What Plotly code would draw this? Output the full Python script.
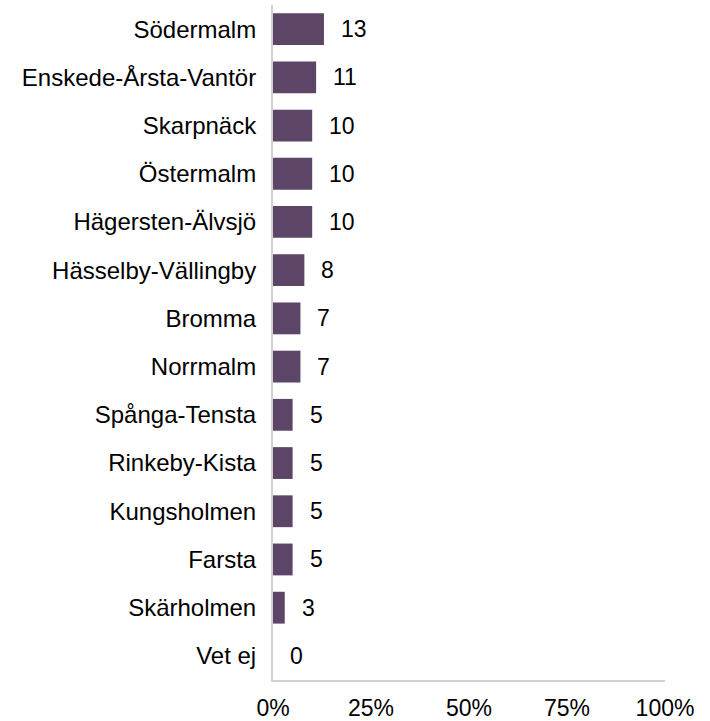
import plotly.graph_objects as go

categories = ["Södermalm", "Enskede-Årsta-Vantör", "Skarpnäck", "Östermalm",
              "Hägersten-Älvsjö", "Hässelby-Vällingby", "Bromma", "Norrmalm",
              "Spånga-Tensta", "Rinkeby-Kista", "Kungsholmen", "Farsta",
              "Skärholmen", "Vet ej"]
values = [13, 11, 10, 10, 10, 8, 7, 7, 5, 5, 5, 5, 3, 0]
tick_vals = [0, 25, 50, 75, 100]
tick_text = ["0%", "25%", "50%", "75%", "100%"]

FONT = "Liberation Sans, Arial, sans-serif"

fig = go.Figure()
fig.add_trace(go.Bar(
    x=values, y=categories, orientation="h",
    marker=dict(color="#5C4566", line=dict(color="#76627F", width=0)),
    hoverinfo="x+y",
))

for c, v in zip(categories, values):
    fig.add_annotation(x=v, y=c, text=str(v), showarrow=False,
                       xanchor="left", xshift=15,
                       font=dict(family=FONT, size=23, color="#000000"))

fig.update_layout(
    width=710, height=721,
    margin=dict(l=273, r=45, t=5, b=41, autoexpand=False),
    paper_bgcolor="white", plot_bgcolor="white",
    bargap=0.34, showlegend=False,
    font=dict(family=FONT, size=23, color="#000000"),
)
fig.update_xaxes(range=[0, 100], tickvals=tick_vals, ticktext=tick_text,
                 showgrid=False, zeroline=False, showline=True,
                 linecolor="#D0D0D0", linewidth=2, ticks="",
                 automargin=False, ticklabelstandoff=6,
                 tickfont=dict(family=FONT, size=23, color="#000000"))
fig.update_yaxes(categoryorder="array", categoryarray=categories[::-1],
                 showgrid=False, zeroline=False, showline=True,
                 linecolor="#D0D0D0", linewidth=2, ticks="",
                 automargin=False, ticklabelstandoff=10,
                 tickfont=dict(family=FONT, size=24, color="#000000"))

fig.write_html("out.html",
               config={"displayModeBar": False},
               post_script="document.body.style.margin='0';document.body.style.overflow='hidden';")
